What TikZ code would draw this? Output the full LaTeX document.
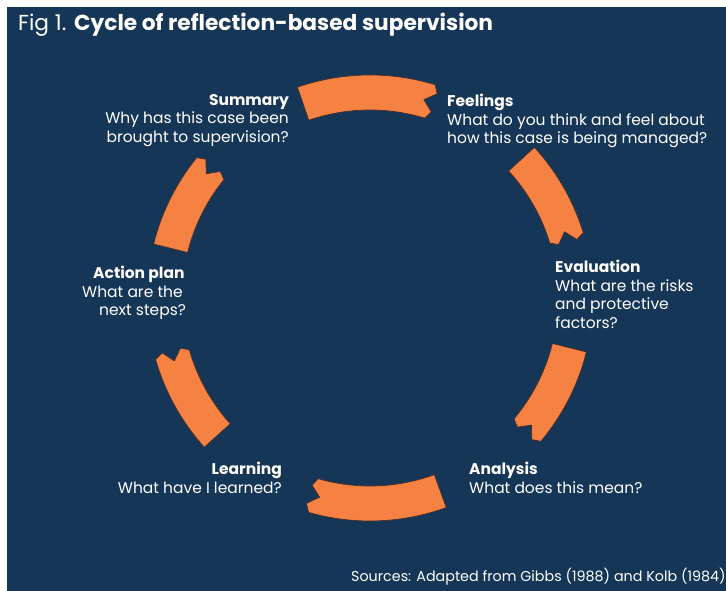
\documentclass[tikz,border=0pt]{standalone}
\usepackage{fontspec}
\setmainfont{Poppins}
\definecolor{navy}{RGB}{22,54,88}
\definecolor{seg}{RGB}{245,130,66}
\definecolor{segedge}{RGB}{70,45,42}

% One band of the cycle: outer arc from the tail angle to the head angle
% (clockwise), a notched head, the inner arc back, and a straight tail.
\def\Ro{223}
\def\Ri{188}
\def\Rm{205.5}
\newcommand\cyclearc[2]{%
  \path[band] (#1:\Ro) arc[start angle=#1, end angle=#2, radius=\Ro]
    -- ({#2-1.2}:{\Ro-8}) -- ({#2+1.8}:\Rm) -- ({#2-1.2}:{\Ri+8})
    -- (#2:\Ri) arc[start angle=#2, end angle=#1, radius=\Ri] -- cycle;}

\begin{document}
\begin{tikzpicture}[x=1pt, y=1pt,
  band/.style={fill=seg, draw=segedge, line width=0.7pt, line join=round},
  label/.style={text=white, inner sep=0pt, font=\fontsize{15.5}{18.5}\selectfont},
  titletext/.style={text=white, inner sep=0pt, font=\fontsize{21.7}{25}\selectfont}]
  \useasboundingbox (0,0) rectangle (726,591);
  \fill[white] (0,0) rectangle (726,591);
  \fill[navy] (7,0) rectangle (726,584);

  \node[titletext, anchor=base west] (title) at (18,560)
    {Fig 1. \textbf{Cycle of reflection-based supervision}};

  \begin{scope}[shift={(370,293)}]
    \cyclearc{109}{73}
    \cyclearc{42.5}{17}
    \cyclearc{-14}{-40}
    \cyclearc{-70}{-106}
    \cyclearc{222}{196}
    \cyclearc{166}{141}
  \end{scope}

  \node[label, anchor=north east, align=right] (summary) at (289,497)
    {\textbf{Summary}\\Why has this case been\\brought to supervision?};
  \node[label, anchor=north west, align=left] (feelings) at (447,497)
    {\textbf{Feelings}\\What do you think and feel about\\how this case is being managed?};
  \node[label, anchor=north west, align=left] (evaluation) at (555,331)
    {\textbf{Evaluation}\\What are the risks\\and protective\\factors?};
  \node[label, anchor=north west, align=left] (analysis) at (469,129)
    {\textbf{Analysis}\\What does this mean?};
  \node[label, anchor=north east, align=right] (learning) at (282,129)
    {\textbf{Learning}\\What have I learned?};
  \node[label, anchor=north west, align=left] (action) at (82,325)
    {\hspace*{11pt}\textbf{Action plan}\\What are the\\\hspace*{17pt}next steps?};

  \node[text=white, inner sep=0pt, anchor=base west,
        font=\fontsize{14.3}{17}\selectfont] (sources) at (351,9)
    {Sources: Adapted from Gibbs (1988) and Kolb (1984)};
\end{tikzpicture}
\end{document}
